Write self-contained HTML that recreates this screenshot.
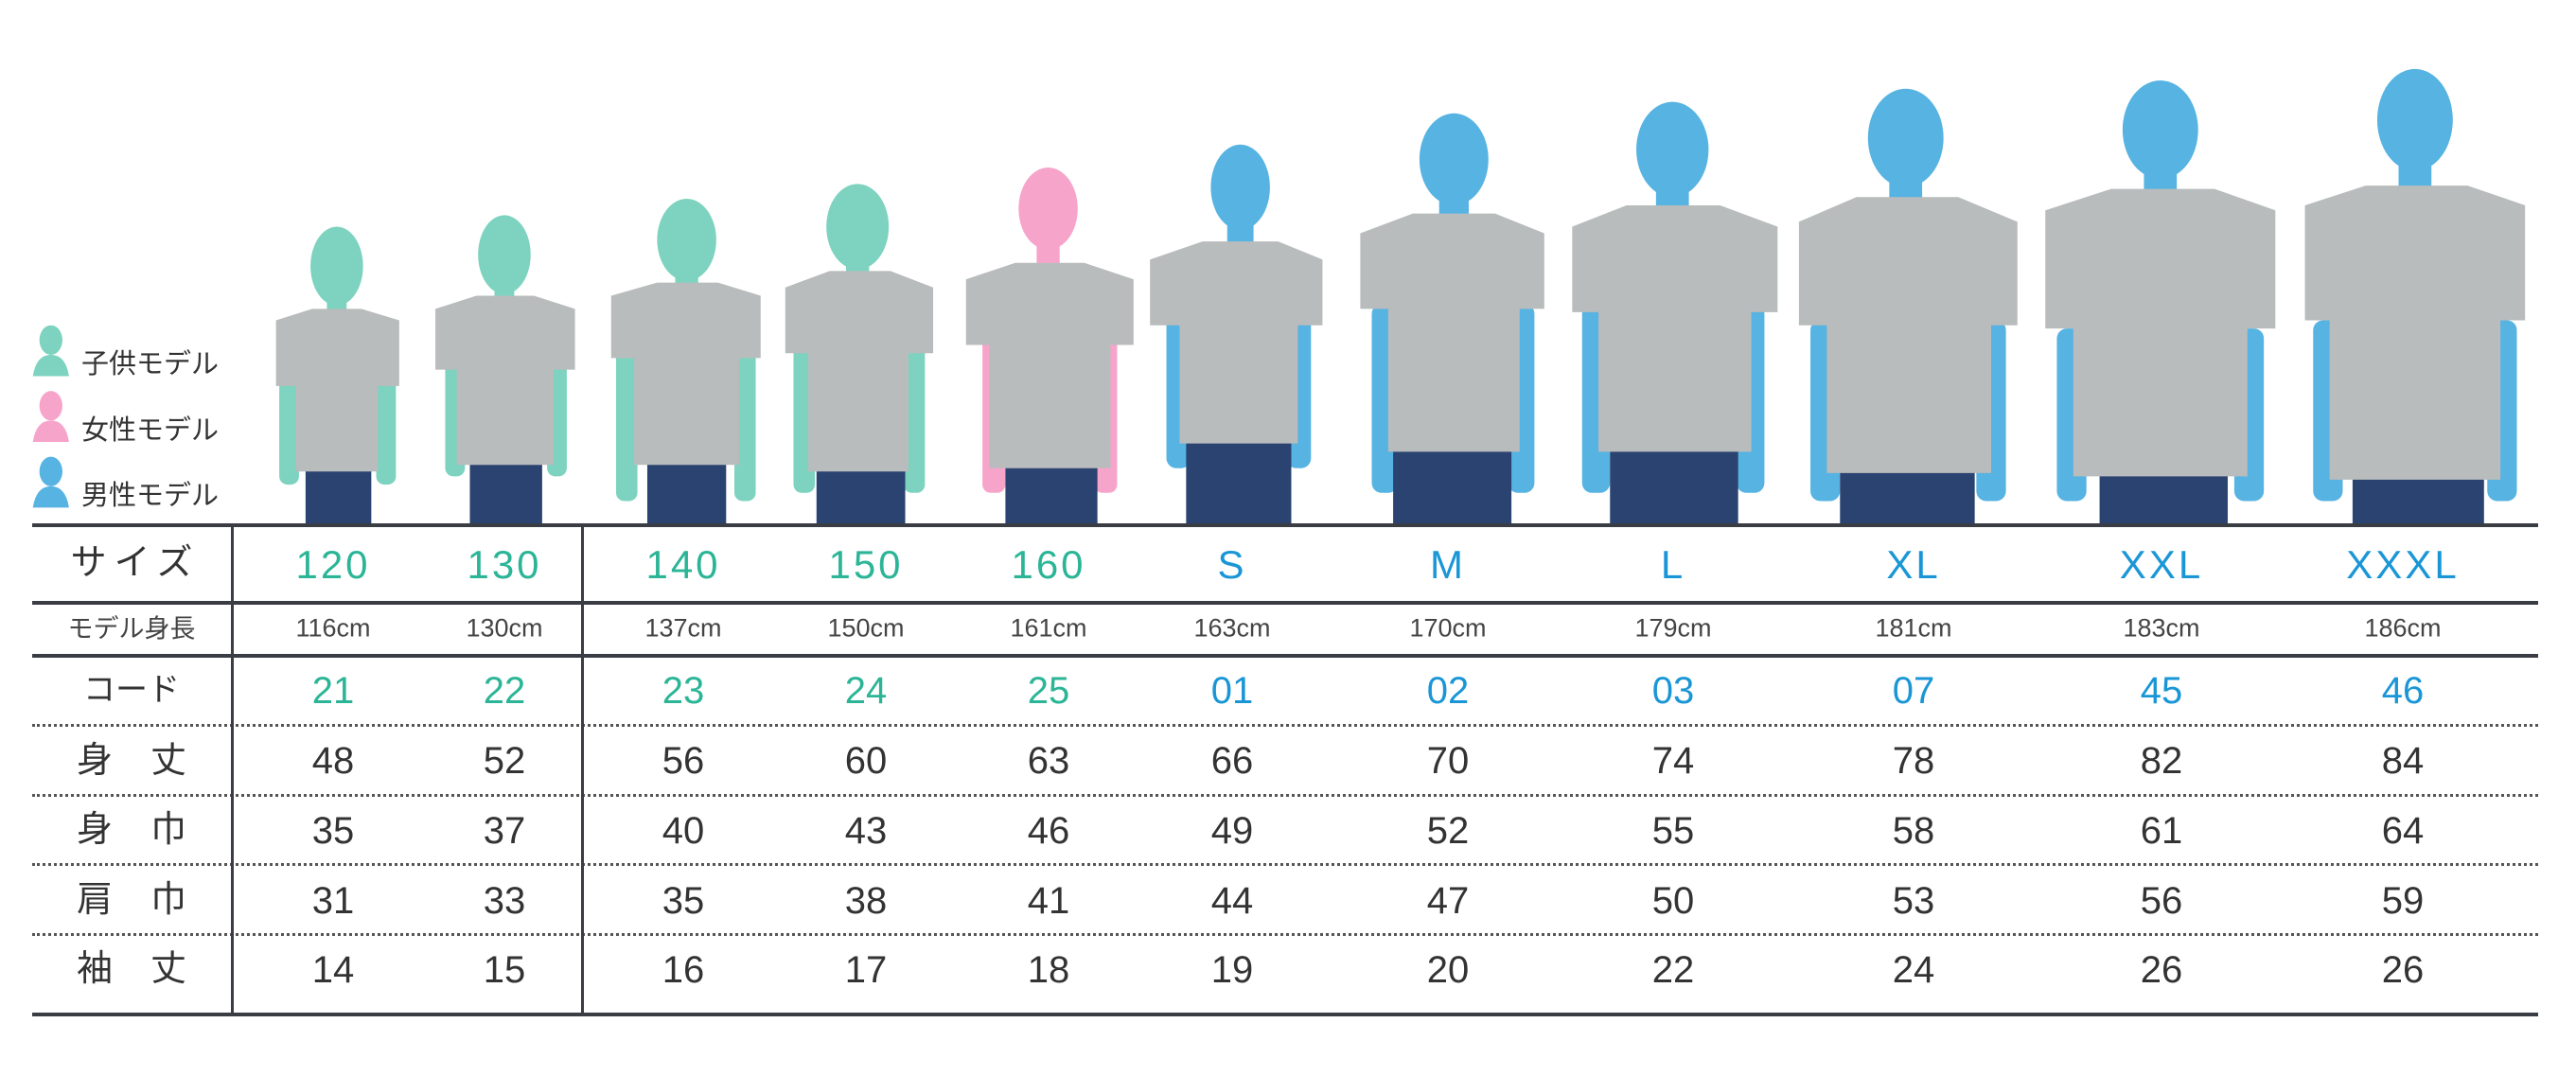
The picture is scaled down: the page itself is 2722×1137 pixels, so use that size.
<!DOCTYPE html>
<html><head><meta charset="utf-8">
<style>
body{margin:0;background:#fff;}
#w{position:relative;width:2722px;height:1137px;overflow:hidden;font-family:"Liberation Sans","Noto Sans CJK JP",sans-serif;color:#333;}
.t{position:absolute;transform:translate(-50%,-50%);white-space:nowrap;line-height:1;}
.hl{position:absolute;left:34px;width:2648px;height:4px;background:#3a3d44;}
.dl{position:absolute;left:34px;width:2648px;border-top:3px dotted #555;}
.vl{position:absolute;width:3px;background:#3a3d44;top:555px;height:517px;}
.g{color:#2bb596;}.b{color:#1a96d6;}
.sz{font-size:42px;letter-spacing:3px;}
.cm{font-size:27px;color:#444;}
.n{font-size:40px;}
.lab{font-size:38px;}
.lab2{font-size:38px;letter-spacing:40px;text-indent:40px;}
.leg{position:absolute;font-size:29px;color:#333;}
</style></head><body><div id="w">
<svg style="position:absolute;left:0;top:0" width="2722" height="1137" viewBox="0 0 1568 655" preserveAspectRatio="none">
<g>
<g fill="#7dd3bf"><ellipse cx="205" cy="162" rx="16" ry="24"/><rect x="199" y="180" width="12" height="15"/><rect x="170" y="200" width="12" height="95" rx="5"/><rect x="229" y="200" width="12" height="95" rx="5"/></g>
<rect x="186" y="282" width="40" height="38" fill="#2a4370"/><path d="M168 195 L190 188 L220 188 L243 195 L243 235 L230 235 L230 287 L180 287 L180 235 L168 235Z" fill="#b9bcbc"/>
<g fill="#7dd3bf"><ellipse cx="307" cy="155" rx="16" ry="24"/><rect x="301" y="172" width="12" height="12"/><rect x="271" y="200" width="12" height="90" rx="5"/><rect x="333" y="200" width="12" height="90" rx="5"/></g>
<rect x="286" y="278" width="44" height="42" fill="#2a4370"/><path d="M265 188 L290 180 L325 180 L350 188 L350 225 L337 225 L337 283 L278 283 L278 225 L265 225Z" fill="#b9bcbc"/>
<g fill="#7dd3bf"><ellipse cx="418" cy="146" rx="18" ry="25"/><rect x="411" y="165" width="14" height="10"/><rect x="375" y="205" width="13" height="100" rx="5"/><rect x="447" y="205" width="13" height="100" rx="5"/></g>
<rect x="394" y="280" width="48" height="40" fill="#2a4370"/><path d="M372 180 L400 172 L437 172 L463 180 L463 218 L450 218 L450 283 L386 283 L386 218 L372 218Z" fill="#b9bcbc"/>
<g fill="#7dd3bf"><ellipse cx="522" cy="138" rx="19" ry="26"/><rect x="515" y="158" width="14" height="10"/><rect x="483" y="200" width="13" height="100" rx="5"/><rect x="550" y="200" width="13" height="100" rx="5"/></g>
<rect x="497" y="282" width="54" height="38" fill="#2a4370"/><path d="M478 175 L505 165 L542 165 L568 175 L568 215 L553 215 L553 287 L492 287 L492 215 L478 215Z" fill="#b9bcbc"/>
<g fill="#f7a4cb"><ellipse cx="638" cy="127" rx="18" ry="25"/><rect x="631" y="145" width="14" height="17"/><rect x="598" y="195" width="14" height="105" rx="5"/><rect x="666" y="195" width="14" height="105" rx="5"/></g>
<rect x="612" y="280" width="56" height="40" fill="#2a4370"/><path d="M588 170 L618 160 L660 160 L690 170 L690 210 L676 210 L676 285 L602 285 L602 210 L588 210Z" fill="#b9bcbc"/>
<g fill="#56b3e2"><ellipse cx="755" cy="114" rx="18" ry="26"/><rect x="747" y="130" width="16" height="20"/><rect x="710" y="190" width="15" height="95" rx="6"/><rect x="783" y="190" width="15" height="95" rx="6"/></g>
<rect x="722" y="265" width="64" height="55" fill="#2a4370"/><path d="M700 158 L732 147 L778 147 L805 158 L805 198 L790 198 L790 270 L718 270 L718 198 L700 198Z" fill="#b9bcbc"/>
<g fill="#56b3e2"><ellipse cx="885" cy="97" rx="21" ry="28"/><rect x="876" y="115" width="18" height="18"/><rect x="835" y="185" width="16" height="115" rx="6"/><rect x="918" y="185" width="16" height="115" rx="6"/></g>
<rect x="848" y="270" width="72" height="50" fill="#2a4370"/><path d="M828 142 L860 130 L910 130 L940 142 L940 188 L925 188 L925 275 L845 275 L845 188 L828 188Z" fill="#b9bcbc"/>
<g fill="#56b3e2"><ellipse cx="1018" cy="91" rx="22" ry="29"/><rect x="1008" y="110" width="20" height="18"/><rect x="963" y="185" width="17" height="115" rx="6"/><rect x="1057" y="185" width="17" height="115" rx="6"/></g>
<rect x="980" y="270" width="78" height="50" fill="#2a4370"/><path d="M957 138 L990 125 L1047 125 L1082 138 L1082 190 L1066 190 L1066 275 L973 275 L973 190 L957 190Z" fill="#b9bcbc"/>
<g fill="#56b3e2"><ellipse cx="1160" cy="84" rx="23" ry="30"/><rect x="1150" y="104" width="20" height="18"/><rect x="1102" y="195" width="18" height="110" rx="6"/><rect x="1203" y="195" width="18" height="110" rx="6"/></g>
<rect x="1120" y="282" width="82" height="38" fill="#2a4370"/><path d="M1095 135 L1130 120 L1192 120 L1228 135 L1228 198 L1212 198 L1212 288 L1112 288 L1112 198 L1095 198Z" fill="#b9bcbc"/>
<g fill="#56b3e2"><ellipse cx="1315" cy="79" rx="23" ry="30"/><rect x="1305" y="98" width="20" height="19"/><rect x="1252" y="200" width="18" height="105" rx="6"/><rect x="1360" y="200" width="18" height="105" rx="6"/></g>
<rect x="1278" y="285" width="78" height="35" fill="#2a4370"/><path d="M1245 128 L1285 115 L1348 115 L1385 128 L1385 200 L1368 200 L1368 290 L1262 290 L1262 200 L1245 200Z" fill="#b9bcbc"/>
<g fill="#56b3e2"><ellipse cx="1470" cy="73" rx="23" ry="31"/><rect x="1460" y="93" width="20" height="22"/><rect x="1408" y="195" width="18" height="110" rx="6"/><rect x="1514" y="195" width="18" height="110" rx="6"/></g>
<rect x="1432" y="285" width="80" height="35" fill="#2a4370"/><path d="M1403 125 L1440 113 L1502 113 L1537 125 L1537 195 L1522 195 L1522 292 L1418 292 L1418 195 L1403 195Z" fill="#b9bcbc"/>
</g>
<g><ellipse cx="31" cy="207" rx="7" ry="9" fill="#7dd3bf"/><path d="M20 229 Q22 216 31 216 Q40 216 42 229Z" fill="#7dd3bf"/>
<ellipse cx="31" cy="247" rx="7" ry="9" fill="#f7a4cb"/><path d="M20 269 Q22 256 31 256 Q40 256 42 269Z" fill="#f7a4cb"/>
<ellipse cx="31" cy="287" rx="7" ry="9" fill="#56b3e2"/><path d="M20 309 Q22 296 31 296 Q40 296 42 309Z" fill="#56b3e2"/></g>
</svg>
<div class="leg" style="left:86px;top:361px">子供モデル</div>
<div class="leg" style="left:86px;top:431px">女性モデル</div>
<div class="leg" style="left:86px;top:500px">男性モデル</div>

<div class="hl" style="top:553px"></div>
<div class="hl" style="top:635px"></div>
<div class="hl" style="top:691px"></div>
<div class="dl" style="top:765px"></div>
<div class="dl" style="top:839px"></div>
<div class="dl" style="top:912px"></div>
<div class="dl" style="top:986px"></div>
<div class="hl" style="top:1070px"></div>
<div class="vl" style="left:244px"></div>
<div class="vl" style="left:614px"></div>

<div class="t lab" style="left:139px;top:595px;letter-spacing:8px;text-indent:8px">サイズ</div>
<div class="t" style="left:139px;top:665px;font-size:27px;color:#444">モデル身長</div>
<div class="t lab" style="left:139px;top:729px;font-size:34px">コード</div>
<div class="t lab2" style="left:139px;top:804px">身丈</div>
<div class="t lab2" style="left:139px;top:877px">身巾</div>
<div class="t lab2" style="left:139px;top:951px">肩巾</div>
<div class="t lab2" style="left:139px;top:1024px">袖丈</div>

<div class="t sz g" style="left:352px;top:597px">120</div>
<div class="t sz g" style="left:533px;top:597px">130</div>
<div class="t sz g" style="left:722px;top:597px">140</div>
<div class="t sz g" style="left:915px;top:597px">150</div>
<div class="t sz g" style="left:1108px;top:597px">160</div>
<div class="t sz b" style="left:1302px;top:597px">S</div>
<div class="t sz b" style="left:1530px;top:597px">M</div>
<div class="t sz b" style="left:1768px;top:597px">L</div>
<div class="t sz b" style="left:2022px;top:597px">XL</div>
<div class="t sz b" style="left:2284px;top:597px">XXL</div>
<div class="t sz b" style="left:2539px;top:597px">XXXL</div>

<div class="t cm" style="left:352px;top:664px">116cm</div>
<div class="t cm" style="left:533px;top:664px">130cm</div>
<div class="t cm" style="left:722px;top:664px">137cm</div>
<div class="t cm" style="left:915px;top:664px">150cm</div>
<div class="t cm" style="left:1108px;top:664px">161cm</div>
<div class="t cm" style="left:1302px;top:664px">163cm</div>
<div class="t cm" style="left:1530px;top:664px">170cm</div>
<div class="t cm" style="left:1768px;top:664px">179cm</div>
<div class="t cm" style="left:2022px;top:664px">181cm</div>
<div class="t cm" style="left:2284px;top:664px">183cm</div>
<div class="t cm" style="left:2539px;top:664px">186cm</div>

<div class="t n g" style="left:352px;top:730px">21</div>
<div class="t n g" style="left:533px;top:730px">22</div>
<div class="t n g" style="left:722px;top:730px">23</div>
<div class="t n g" style="left:915px;top:730px">24</div>
<div class="t n g" style="left:1108px;top:730px">25</div>
<div class="t n b" style="left:1302px;top:730px">01</div>
<div class="t n b" style="left:1530px;top:730px">02</div>
<div class="t n b" style="left:1768px;top:730px">03</div>
<div class="t n b" style="left:2022px;top:730px">07</div>
<div class="t n b" style="left:2284px;top:730px">45</div>
<div class="t n b" style="left:2539px;top:730px">46</div>

<div class="t n" style="left:352px;top:804px">48</div><div class="t n" style="left:533px;top:804px">52</div><div class="t n" style="left:722px;top:804px">56</div><div class="t n" style="left:915px;top:804px">60</div><div class="t n" style="left:1108px;top:804px">63</div><div class="t n" style="left:1302px;top:804px">66</div><div class="t n" style="left:1530px;top:804px">70</div><div class="t n" style="left:1768px;top:804px">74</div><div class="t n" style="left:2022px;top:804px">78</div><div class="t n" style="left:2284px;top:804px">82</div><div class="t n" style="left:2539px;top:804px">84</div>

<div class="t n" style="left:352px;top:878px">35</div><div class="t n" style="left:533px;top:878px">37</div><div class="t n" style="left:722px;top:878px">40</div><div class="t n" style="left:915px;top:878px">43</div><div class="t n" style="left:1108px;top:878px">46</div><div class="t n" style="left:1302px;top:878px">49</div><div class="t n" style="left:1530px;top:878px">52</div><div class="t n" style="left:1768px;top:878px">55</div><div class="t n" style="left:2022px;top:878px">58</div><div class="t n" style="left:2284px;top:878px">61</div><div class="t n" style="left:2539px;top:878px">64</div>

<div class="t n" style="left:352px;top:952px">31</div><div class="t n" style="left:533px;top:952px">33</div><div class="t n" style="left:722px;top:952px">35</div><div class="t n" style="left:915px;top:952px">38</div><div class="t n" style="left:1108px;top:952px">41</div><div class="t n" style="left:1302px;top:952px">44</div><div class="t n" style="left:1530px;top:952px">47</div><div class="t n" style="left:1768px;top:952px">50</div><div class="t n" style="left:2022px;top:952px">53</div><div class="t n" style="left:2284px;top:952px">56</div><div class="t n" style="left:2539px;top:952px">59</div>

<div class="t n" style="left:352px;top:1025px">14</div><div class="t n" style="left:533px;top:1025px">15</div><div class="t n" style="left:722px;top:1025px">16</div><div class="t n" style="left:915px;top:1025px">17</div><div class="t n" style="left:1108px;top:1025px">18</div><div class="t n" style="left:1302px;top:1025px">19</div><div class="t n" style="left:1530px;top:1025px">20</div><div class="t n" style="left:1768px;top:1025px">22</div><div class="t n" style="left:2022px;top:1025px">24</div><div class="t n" style="left:2284px;top:1025px">26</div><div class="t n" style="left:2539px;top:1025px">26</div>
</div></body></html>
